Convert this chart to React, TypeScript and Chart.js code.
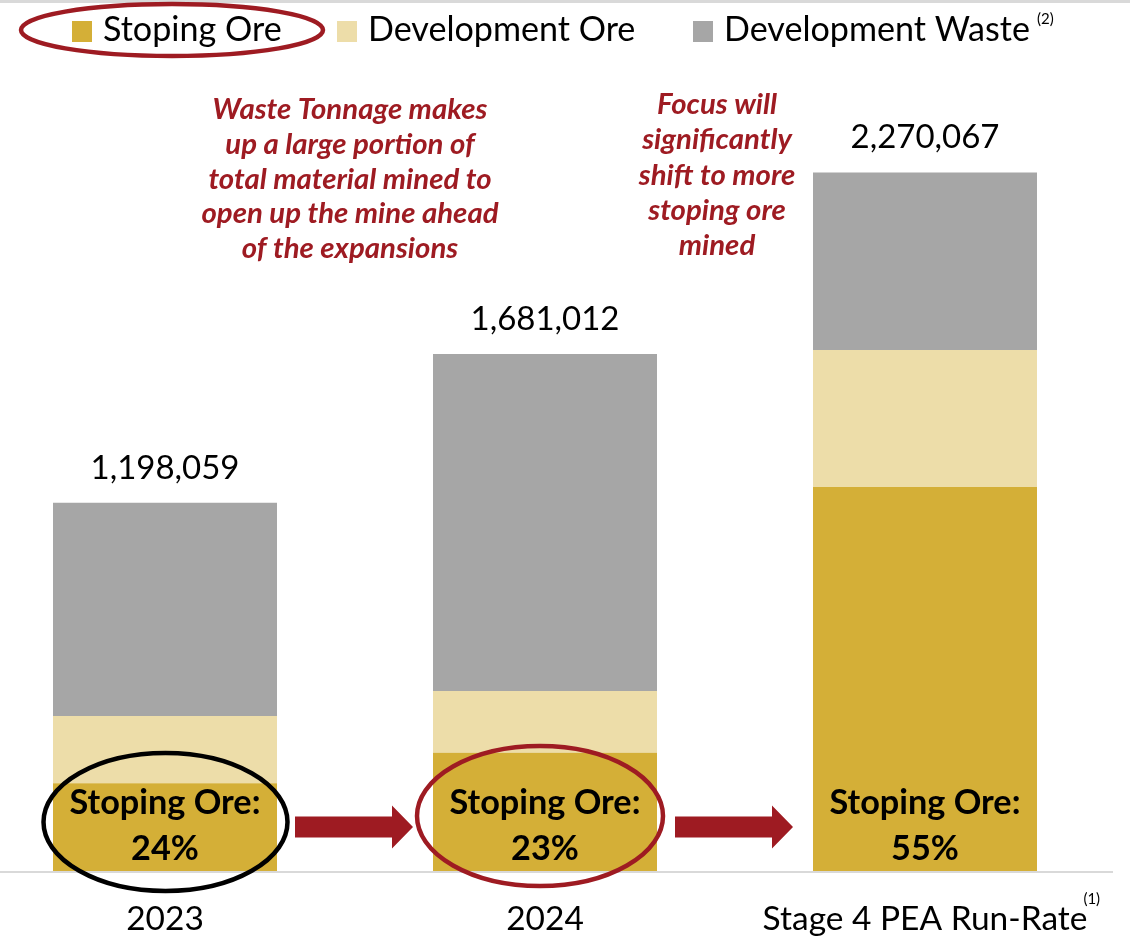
import React, { useEffect, useRef } from 'react';
import { Chart, registerables } from 'chart.js';

Chart.register(...registerables);

// ---------- data ----------
const categories = ['2023', '2024', 'Stage 4 PEA Run-Rate'];
const seriesNames = ['Stoping Ore', 'Development Ore', 'Development Waste'];
const stopingOre = [288000, 387000, 1249000];
const developmentOre = [218000, 200000, 445000];
const developmentWaste = [692059, 1094012, 576067];
const yMax = 2700000;
const noteLeft = [
  'Waste Tonnage makes',
  'up a large portion of',
  'total material mined to',
  'open up the mine ahead',
  'of the expansions',
];
const noteRight = ['Focus will', 'significantly', 'shift to more', 'stoping ore', 'mined'];
const legendFootnote = '(2)';
const axisFootnote = '(1)';

// ---------- style ----------
const COLORS = {
  stoping: '#D4AF37',
  devOre: '#EDDDA9',
  waste: '#A6A6A6',
  red: '#9E1B22',
  rule: '#D9D9D9',
};
const FAMILY = 'Lato, "Open Sans", sans-serif';
const OX = 25; // canvas is shifted left by this many px

export default function App() {
  const ref = useRef<HTMLCanvasElement>(null);

  useEffect(() => {
    const canvas = ref.current;
    if (!canvas) return;
    const m = document.createElement('canvas').getContext('2d')!;
    const fit = (text: string, target: number, style: string) => {
      m.font = `${style} 100px ${FAMILY}`;
      return (100 * target) / m.measureText(text).width;
    };
    const sz = {
      legend: fit(seriesNames[2], 306, '400'),
      tick: fit(categories[2], 325, '400'),
      total: fit('2,270,067', 149, '400'),
      bold: fit(seriesNames[0] + ':', 191, '700'),
      note: fit(noteLeft[0], 275, 'italic 700'),
    };

    const overlay = {
      id: 'overlay',
      afterDraw(chart: any) {
        const ctx: CanvasRenderingContext2D = chart.ctx;
        const base = chart.chartArea.bottom;
        const metas = [0, 1, 2].map((i) => chart.getDatasetMeta(i));
        ctx.save();

        // top rule and axis line
        ctx.fillStyle = COLORS.rule;
        ctx.fillRect(0, 0, chart.width, 3);
        ctx.fillRect(OX, base - 1, 1113, 2);

        // legend
        const legendX = [72, 337, 693];
        ctx.font = `400 ${sz.legend}px ${FAMILY}`;
        ctx.textAlign = 'left';
        ctx.textBaseline = 'alphabetic';
        let lastRight = 0;
        chart.data.datasets.forEach((ds: any, i: number) => {
          const x = legendX[i] + OX;
          ctx.fillStyle = ds.backgroundColor;
          ctx.fillRect(x, 21, 20, 21);
          ctx.fillStyle = '#000';
          ctx.fillText(ds.label, x + 31, 41);
          lastRight = x + 31 + ctx.measureText(ds.label).width;
        });
        ctx.font = `400 15px ${FAMILY}`;
        ctx.fillText(legendFootnote, lastRight + 7, 24);
        // legend ellipse
        ctx.strokeStyle = COLORS.red;
        ctx.lineWidth = 4.5;
        ctx.beginPath();
        ctx.ellipse(172 + OX, 30, 151, 26, 0, 0, Math.PI * 2);
        ctx.stroke();

        // axis footnote after last category label
        ctx.font = `400 ${sz.tick}px ${FAMILY}`;
        const lastBar = metas[0].data[2];
        const lastLabelRight = lastBar.x + ctx.measureText(categories[2]).width / 2;
        ctx.font = `400 15px ${FAMILY}`;
        ctx.fillStyle = '#000';
        ctx.fillText(axisFootnote, lastLabelRight - 4, 904);

        // totals and stoping labels
        categories.forEach((_, i) => {
          const total = stopingOre[i] + developmentOre[i] + developmentWaste[i];
          const top = metas[2].data[i];
          ctx.textAlign = 'center';
          ctx.fillStyle = '#000';
          ctx.font = `400 ${sz.total}px ${FAMILY}`;
          ctx.fillText(total.toLocaleString('en-US'), top.x, top.y - 24);
          ctx.font = `700 ${sz.bold}px ${FAMILY}`;
          ctx.fillText(seriesNames[0] + ':', top.x, base - 58);
          ctx.fillText(Math.round((stopingOre[i] / total) * 100) + '%', top.x, base - 12);
        });

        // ellipses around the first two stoping labels
        const b0 = metas[0].data[0];
        const b1 = metas[0].data[1];
        ctx.lineWidth = 4.5;
        ctx.strokeStyle = '#000';
        ctx.beginPath();
        ctx.ellipse(b0.x + 0.5, base - 50, 122, 69, 0, 0, Math.PI * 2);
        ctx.stroke();
        ctx.strokeStyle = COLORS.red;
        ctx.beginPath();
        ctx.ellipse(b1.x - 5, base - 56, 123, 70, 0, 0, Math.PI * 2);
        ctx.stroke();

        // arrows between bars
        ctx.fillStyle = COLORS.red;
        for (let i = 0; i < 2; i++) {
          const a = metas[0].data[i];
          const b = metas[0].data[i + 1];
          const x0 = a.x + a.width / 2 + 18;
          const tip = b.x - b.width / 2 - 20;
          const hx = tip - 21;
          const cy = base - 45;
          ctx.beginPath();
          ctx.moveTo(x0, cy - 10.5);
          ctx.lineTo(hx, cy - 10.5);
          ctx.lineTo(hx, cy - 21.5);
          ctx.lineTo(tip, cy);
          ctx.lineTo(hx, cy + 21.5);
          ctx.lineTo(hx, cy + 10.5);
          ctx.lineTo(x0, cy + 10.5);
          ctx.closePath();
          ctx.fill();
        }

        // annotations
        ctx.font = `italic 700 ${sz.note}px ${FAMILY}`;
        ctx.textAlign = 'center';
        ctx.fillStyle = COLORS.red;
        noteLeft.forEach((t, i) => ctx.fillText(t, 350 + OX, 119 + i * 34.8));
        noteRight.forEach((t, i) => ctx.fillText(t, 717 + OX, 114 + i * 35.25));

        ctx.restore();
      },
    };

    const chart = new Chart(canvas, {
      type: 'bar',
      data: {
        labels: categories,
        datasets: [
          { label: seriesNames[0], data: stopingOre, backgroundColor: COLORS.stoping },
          { label: seriesNames[1], data: developmentOre, backgroundColor: COLORS.devOre },
          { label: seriesNames[2], data: developmentWaste, backgroundColor: COLORS.waste },
        ],
      },
      options: {
        responsive: false,
        animation: false,
        layout: { padding: { top: 40, right: 15, left: 0, bottom: 0 } },
        datasets: { bar: { barPercentage: 224 / 380, categoryPercentage: 1 } },
        plugins: { legend: { display: false }, tooltip: { enabled: false } },
        scales: {
          x: {
            stacked: true,
            grid: { display: false, drawTicks: false },
            border: { display: false },
            ticks: {
              color: '#000',
              font: { family: FAMILY, size: sz.tick },
              padding: 27,
              maxRotation: 0,
              autoSkip: false,
            },
            afterFit: (s: any) => {
              s.height = 68;
            },
          },
          y: { stacked: true, display: false, min: 0, max: yMax },
        },
      },
      plugins: [overlay],
    } as any);

    return () => chart.destroy();
  }, []);

  return (
    <div style={{ position: 'absolute', left: -OX, top: 0, width: 1130 + OX, height: 940 }}>
      <canvas ref={ref} width={1130 + OX} height={940} style={{ display: 'block' }} />
    </div>
  );
}
